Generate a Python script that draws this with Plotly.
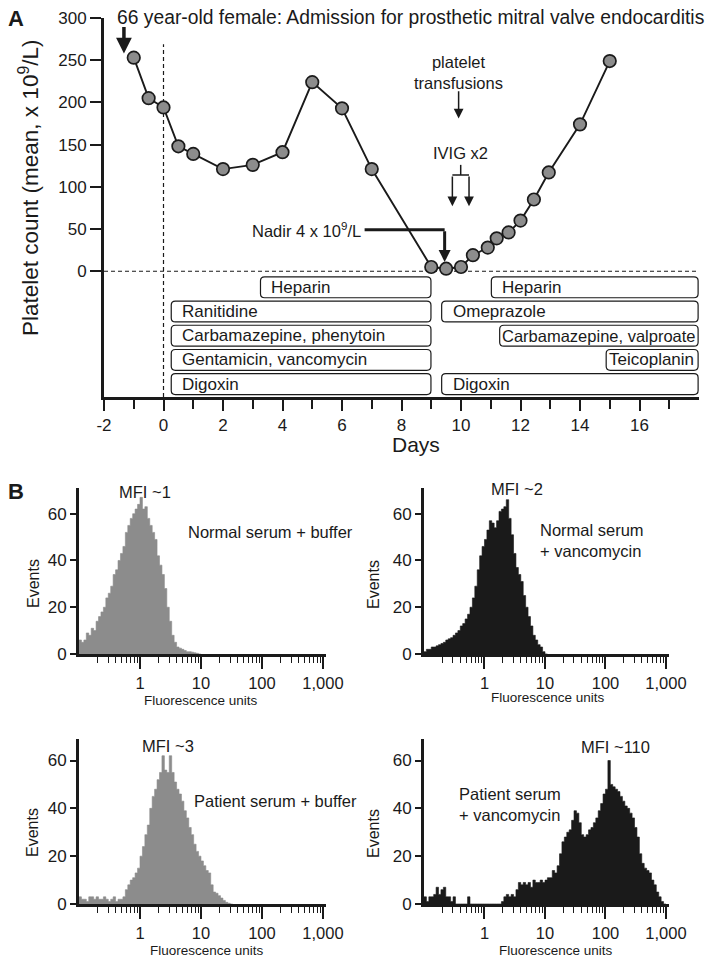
import numpy as np
import plotly.graph_objects as go

# the page body adds an 8px margin, so the figure is drawn 8px smaller
OFF = 8
W, H = 715 - OFF, 961 - OFF
FONT = "Liberation Sans, Arial, Helvetica, sans-serif"
INK = "#1a1a1a"
GRAY = "#8c8c8c"

# ---- Panel A: platelet count over time ----
days = [-1.0, -0.5, 0.0, 0.5, 1.0, 2.0, 3.0, 4.0, 5.0, 6.0, 7.0, 9.0, 9.5,
        10.0, 10.4, 10.9, 11.2, 11.6, 12.0, 12.45, 12.95, 14.0, 15.0]
platelets = [253, 205, 194, 148, 139, 121, 126, 141, 224, 193, 121, 5, 3,
             5, 19, 28, 39, 46, 60, 85, 117, 174, 249]

# drug exposure bars (start day, end day, row from top)
drug_names = ["Heparin", "Ranitidine", "Carbamazepine, phenytoin",
              "Gentamicin, vancomycin", "Digoxin",
              "Heparin", "Omeprazole", "Carbamazepine, valproate",
              "Teicoplanin", "Digoxin"]
drug_start = [3.26, 0.26, 0.26, 0.26, 0.26, 11.02, 9.35, 11.3, 14.88, 9.35]
drug_end = [8.99, 8.99, 8.99, 8.99, 8.99, 17.97, 17.97, 17.97, 17.97, 17.97]
drug_row = [0, 1, 2, 3, 4, 0, 1, 2, 3, 4]

day_ticks = [-2, 0, 2, 4, 6, 8, 10, 12, 14, 16]
count_ticks = [0, 50, 100, 150, 200, 250, 300]

# ---- Panel B: flow cytometry histograms (counts per 0.04-decade bin from 0.1) ----
LOG_START = -1.0
LOG_STEP = 0.04

hist_normal_buffer = [6, 5, 6, 9, 8, 11, 10, 14, 16, 18, 20, 24, 26, 29, 34, 36, 40, 43,
                      46, 52, 55, 58, 60, 62, 64, 67, 62, 63, 58, 55, 52, 49, 42, 38, 34,
                      28, 20, 14, 8, 5, 3, 2.5, 2, 1.5, 1, 1, 0.8, 0.5, 0.3, 0]
hist_normal_vanco = [1, 2, 2, 3, 3, 3.5, 4, 4.5, 5, 6, 6.5, 7, 8, 9, 10, 12, 13, 15, 17,
                     20, 24, 29, 36, 42, 46, 49, 53, 57, 56, 54, 57, 61, 62, 63, 66, 58,
                     51, 43, 37, 34, 31, 25, 20, 16, 12, 8, 6, 4, 3, 1, 0]
hist_patient_buffer = [3, 2, 2, 1, 3, 3, 2, 3, 2, 2, 3, 2, 1, 2, 3, 1, 2, 2, 3, 6, 8, 10,
                       11, 13, 15, 20, 24, 29, 33, 40, 45, 48, 52, 55, 62, 56, 55, 62, 55,
                       51, 48, 46, 43, 39, 36, 32, 29, 25, 22, 20, 18, 16, 14, 13, 8, 5,
                       4.5, 3.5, 2.5, 1.5, 0.7, 0.3, 0]
hist_patient_vanco = [3, 1, 3, 3, 4, 7, 4, 6, 7, 3, 3, 1, 3, 0, 0, 0, 0, 0, 3, 0, 0, 0,
                      0, 0, 0, 0, 0, 0, 0, 0, 0, 0, 1, 3, 4, 3, 4, 3, 6, 9, 8, 9, 8, 9,
                      7, 10, 9, 9, 10, 9, 10, 11, 11, 14, 13, 16, 21, 26, 28, 30, 31, 35,
                      39, 38, 34, 29, 28, 29, 31, 32, 34, 36, 39, 42, 46, 48, 60, 50, 49,
                      48, 47, 45, 43, 41, 40, 38, 36, 32, 28, 21, 17, 15, 14, 13, 10, 8,
                      5, 3, 1, 0]

fluor_ticks = [1, 10, 100, 1000]
fluor_ticktext = ["1", "10", "100", "1,000"]
event_ticks = [0, 20, 40, 60]


def px(x):
    return (x - OFF) / W


def py(y):
    return 1 - (y - OFF) / H


def rounded_box(x0, x1, y0, y1, rx=0.14, ry=4.8):
    return (f"M {x0 + rx},{y0} L {x1 - rx},{y0} Q {x1},{y0} {x1},{y0 + ry} "
            f"L {x1},{y1 - ry} Q {x1},{y1} {x1 - rx},{y1} L {x0 + rx},{y1} "
            f"Q {x0},{y1} {x0},{y1 - ry} L {x0},{y0 + ry} Q {x0},{y0} {x0 + rx},{y0} Z")


def step_trace(counts, color, xa, ya):
    edges = 10 ** (LOG_START + LOG_STEP * np.arange(len(counts) + 1))
    return go.Scatter(x=edges, y=list(counts) + [counts[-1]], mode="lines",
                      line=dict(shape="hv", width=0.6, color=color),
                      fill="tozeroy", fillcolor=color, xaxis=xa, yaxis=ya,
                      hoverinfo="skip", showlegend=False)


def paper_text(x, y, text, size, anchor="center", angle=0, align="center"):
    return dict(x=px(x), y=py(y), xref="paper", yref="paper", text=text,
                showarrow=False, xanchor=anchor, yanchor="middle", align=align,
                textangle=angle, font=dict(size=size, color=INK))


def arrow(x, y, ax, ay, width, size):
    return dict(x=x, y=y, ax=ax, ay=ay, xref="x", yref="y", axref="x", ayref="y",
                text="", showarrow=True, arrowhead=2, arrowsize=size,
                arrowwidth=width, arrowcolor=INK)


fig = go.Figure()

fig.add_trace(go.Scatter(
    x=days, y=platelets, mode="lines+markers",
    line=dict(color=INK, width=1.9),
    marker=dict(size=12.5, color=GRAY, line=dict(color=INK, width=1.7)),
    showlegend=False, xaxis="x", yaxis="y"))

fig.add_trace(step_trace(hist_normal_buffer, GRAY, "x2", "y2"))
fig.add_trace(step_trace(hist_normal_vanco, INK, "x3", "y3"))
fig.add_trace(step_trace(hist_patient_buffer, GRAY, "x4", "y4"))
fig.add_trace(step_trace(hist_patient_vanco, INK, "x5", "y5"))

shapes = []
annotations = []

# dashed reference lines
shapes.append(dict(type="line", xref="x", yref="y", x0=-2, x1=18, y0=0, y1=0,
                   line=dict(color=INK, width=1.2, dash="4px,3px"), layer="below"))
shapes.append(dict(type="line", xref="x", yref="y", x0=0, x1=0, y0=-149, y1=269,
                   line=dict(color=INK, width=1.2, dash="4px,3px"), layer="below"))

# drug boxes
ROW_TOP = -19.0
ROW_GAP = 28.7
HALF = 12.4
for i, name in enumerate(drug_names):
    yc = ROW_TOP - ROW_GAP * drug_row[i]
    shapes.append(dict(type="path", xref="x", yref="y",
                       path=rounded_box(drug_start[i], drug_end[i], yc - HALF, yc + HALF),
                       line=dict(color=INK, width=1.2), fillcolor="white"))
    if name == "Teicoplanin":
        xt, anchor, fs = drug_end[i] - 0.08, "right", 17
    elif name == "Carbamazepine, valproate":
        xt, anchor, fs = (drug_start[i] + drug_end[i]) / 2, "center", 16.5
    else:
        xt, anchor, fs = drug_start[i] + 0.3, "left", 17
    annotations.append(dict(x=xt, y=yc, xref="x", yref="y", text=name,
                            showarrow=False, xanchor=anchor, yanchor="middle",
                            font=dict(size=fs, color=INK)))

# admission arrow
annotations.append(arrow(-1.33, 258, -1.33, 291, 3.5, 0.9))
# platelet transfusions
annotations.append(dict(x=9.92, y=235, xref="x", yref="y",
                        text="platelet<br>transfusions", showarrow=False,
                        font=dict(size=16.5, color=INK)))
annotations.append(arrow(9.92, 181, 9.92, 215, 1.5, 1.3))
# IVIG x2 bracket
annotations.append(dict(x=9.99, y=140, xref="x", yref="y", text="IVIG x2",
                        showarrow=False, font=dict(size=16.5, color=INK)))
shapes.append(dict(type="line", xref="x", yref="y", x0=9.99, x1=9.99, y0=126, y1=114,
                   line=dict(color=INK, width=1.5)))
shapes.append(dict(type="line", xref="x", yref="y", x0=9.71, x1=10.27, y0=114, y1=114,
                   line=dict(color=INK, width=1.5)))
for xv in (9.71, 10.27):
    annotations.append(arrow(xv, 77, xv, 114, 1.5, 1.3))
# nadir
annotations.append(dict(x=6.7, y=49, xref="x", yref="y",
                        text="Nadir 4 x 10<sup>9</sup>/L", showarrow=False,
                        xanchor="right", yanchor="middle", font=dict(size=16.5, color=INK)))
shapes.append(dict(type="line", xref="x", yref="y", x0=6.76, x1=9.45, y0=49, y1=49,
                   line=dict(color=INK, width=3)))
annotations.append(arrow(9.45, 11, 9.45, 49, 3, 0.8))

# panel A text
annotations.append(paper_text(115, 17, "66 year-old female: Admission for prosthetic mitral "
                              "valve endocarditis", 19.3, anchor="left"))
annotations.append(paper_text(16, 19, "<b>A</b>", 22))
annotations.append(paper_text(16, 491, "<b>B</b>", 22))
annotations.append(paper_text(29, 188, "Platelet count (mean, x 10<sup>9</sup>/L)", 22.5,
                              angle=-90))
annotations.append(paper_text(416, 444, "Days", 21))

# panel B text
hist_labels = [
    ("MFI ~1", 145, 492, "center"),
    ("Normal serum + buffer", 270, 532, "center"),
    ("MFI ~2", 517, 489, "center"),
    ("Normal serum<br>+ vancomycin", 538, 540, "left"),
    ("MFI ~3", 168, 746, "center"),
    ("Patient serum + buffer", 275, 801, "center"),
    ("MFI ~110", 615, 747, "center"),
    ("Patient serum<br>+ vancomycin", 457, 804, "left"),
]
for txt, x, y, anchor in hist_labels:
    annotations.append(paper_text(x, y, txt, 16.5, anchor=anchor, align="left"))
for x, y in [(33, 584), (373, 584), (32, 833), (373, 833)]:
    annotations.append(paper_text(x, y, "Events", 16, angle=-90))
for x, y in [(201, 700), (548, 697), (207, 950), (556, 950)]:
    annotations.append(paper_text(x, y, "Fluorescence units", 13.5))

axis_common = dict(showline=True, linecolor=INK, showgrid=False, zeroline=False,
                   automargin=False, ticks="outside", tickcolor=INK,
                   tickfont=dict(size=17, color=INK))

minor_fluor = [k * 10 ** n for n in (-1, 0, 1, 2) for k in range(2, 10)]


def fluor_axis(domain, anchor):
    return dict(axis_common, type="log", domain=domain, anchor=anchor,
                range=[-1, 3.05], linewidth=2.5, tickvals=fluor_ticks,
                ticktext=fluor_ticktext, ticklen=12, tickwidth=1.5,
                tickfont=dict(size=16.5, color=INK),
                minor=dict(tickvals=minor_fluor, ticks="outside", ticklen=6,
                           tickwidth=1.2, tickcolor=INK))


def events_axis(domain, anchor, top):
    return dict(axis_common, domain=domain, anchor=anchor, range=[0, top],
                linewidth=3, tickvals=event_ticks, ticklen=6, tickwidth=1.5,
                tickfont=dict(size=17, color=INK))


LEFT = [px(79), px(326)]
RIGHT = [px(424), px(669)]
TOP_ROW = [py(654), py(488)]
BOT_ROW = [py(904), py(739)]

fig.update_layout(
    width=W, height=H,
    margin=dict(l=0, r=0, t=0, b=0),
    paper_bgcolor="white", plot_bgcolor="white",
    font=dict(family=FONT, color=INK),
    showlegend=False,
    xaxis=dict(axis_common, domain=[px(104), px(699)], anchor="y", range=[-2, 18],
               linewidth=3, tickvals=day_ticks, ticktext=[str(d) for d in day_ticks],
               ticklen=11, tickwidth=2,
               minor=dict(tickvals=[-1, 1, 3, 5, 7, 9, 11, 13, 15, 17], ticks="outside",
                          ticklen=9, tickwidth=2, tickcolor=INK)),
    yaxis=dict(axis_common, domain=[py(397), py(18)], anchor="x", range=[-149, 300],
               linewidth=3, tickvals=count_ticks, ticklen=11, tickwidth=2),
    xaxis2=fluor_axis(LEFT, "y2"),
    yaxis2=events_axis(TOP_ROW, "x2", 71),
    xaxis3=fluor_axis(RIGHT, "y3"),
    yaxis3=events_axis(TOP_ROW, "x3", 71),
    xaxis4=fluor_axis(LEFT, "y4"),
    yaxis4=events_axis(BOT_ROW, "x4", 69),
    xaxis5=fluor_axis(RIGHT, "y5"),
    yaxis5=events_axis(BOT_ROW, "x5", 69),
    shapes=shapes,
    annotations=annotations,
)

fig.write_html("out.html")
